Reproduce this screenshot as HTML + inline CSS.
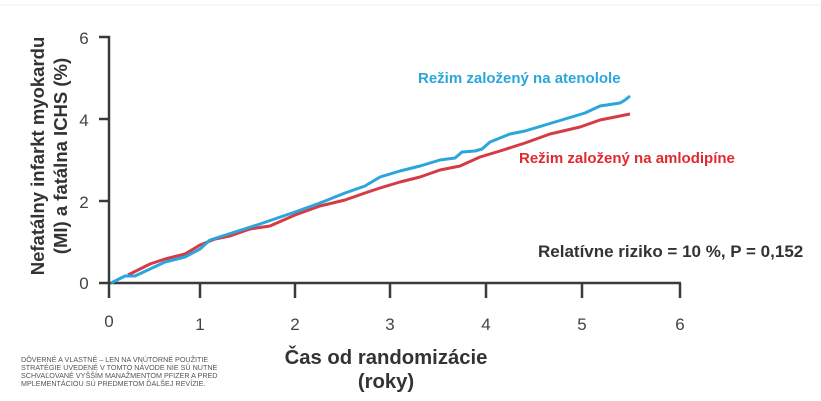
<!DOCTYPE html>
<html><head><meta charset="utf-8"><style>
body{margin:0;background:#fff;width:821px;height:401px;overflow:hidden}
svg{display:block}
text{font-family:"Liberation Sans",Arial,sans-serif}
</style></head><body>
<svg width="821" height="401" viewBox="0 0 821 401">
<rect width="821" height="401" fill="#fff"/>
<line x1="0" y1="5" x2="821" y2="5" stroke="#f0f0f0" stroke-width="1"/>
<g stroke="#3a3a3a" stroke-width="2.5" fill="none">
<polyline points="99,37 109,37 109,298"/>
<line x1="99" y1="119" x2="109" y2="119"/>
<line x1="99" y1="201" x2="109" y2="201"/>
<line x1="99" y1="283" x2="681" y2="283"/>
<line x1="200" y1="283" x2="200" y2="298"/>
<line x1="295" y1="283" x2="295" y2="298"/>
<line x1="390" y1="283" x2="390" y2="298"/>
<line x1="486" y1="283" x2="486" y2="298"/>
<line x1="582" y1="283" x2="582" y2="298"/>
<line x1="680" y1="283" x2="680" y2="298"/>
</g>
<g fill="#444" font-size="17" text-anchor="middle">
<text x="84" y="44">6</text>
<text x="84" y="126">4</text>
<text x="84" y="208">2</text>
<text x="84" y="289">0</text>
<text x="109" y="327">0</text>
<text x="200" y="330">1</text>
<text x="295" y="330">2</text>
<text x="390" y="330">3</text>
<text x="486" y="330">4</text>
<text x="582" y="330">5</text>
<text x="680" y="330">6</text>
</g>
<polyline fill="none" stroke="#d63a45" stroke-width="3" stroke-linejoin="round" points="128,275 140,269 150,264 165,259 185,254 200,245 215,239 230,236 250,229 270,226 295,215 320,206 345,200 365,193 380,188 400,182 420,177 440,170 460,166 480,157 500,151 525,143 550,134 580,127 600,120 620,116 630,114"/>
<polyline fill="none" stroke="#2aa6dc" stroke-width="3" stroke-linejoin="round" points="111,283 125,276 135,276 150,269 165,262 185,257 200,249 210,240 235,232 260,224 295,212 320,203 345,193 365,186 380,177 400,171 420,166 440,160 455,158 462,152 475,151 482,149 490,142 510,134 525,131 545,125 565,119 585,113 600,106 620,103 625,100 630,96"/>
<text x="418" y="83" fill="#2aa6dc" font-size="15" font-weight="bold">Režim založený na atenolole</text>
<text x="519" y="163" fill="#e02a2f" font-size="15" font-weight="bold">Režim založený na amlodipíne</text>
<text x="538" y="257" fill="#333" font-size="17" font-weight="bold">Relatívne riziko = 10 %, P = 0,152</text>
<text transform="translate(44,156) rotate(-90)" text-anchor="middle" fill="#333" font-size="18.5" font-weight="bold">Nefatálny infarkt myokardu</text>
<text transform="translate(67,156) rotate(-90)" text-anchor="middle" fill="#333" font-size="18.5" font-weight="bold">(MI) a fatálna ICHS (%)</text>
<text x="386" y="364" text-anchor="middle" fill="#333" font-size="20.3" font-weight="bold">Čas od randomizácie</text>
<text x="386" y="388" text-anchor="middle" fill="#333" font-size="20.3" font-weight="bold">(roky)</text>
<g fill="#555" font-size="7.2">
<text x="21" y="362">DÔVERNÉ A VLASTNÉ – LEN NA VNÚTORNÉ POUŽITIE</text>
<text x="21" y="370">STRATÉGIE UVEDENÉ V TOMTO NÁVODE NIE SÚ NUTNE</text>
<text x="21" y="378">SCHVAĽOVANÉ VYŠŠÍM MANAŽMENTOM PFIZER A PRED</text>
<text x="21" y="386">MPLEMENTÁCIOU SÚ PREDMETOM ĎALŠEJ REVÍZIE.</text>
</g>
</svg>
</body></html>
